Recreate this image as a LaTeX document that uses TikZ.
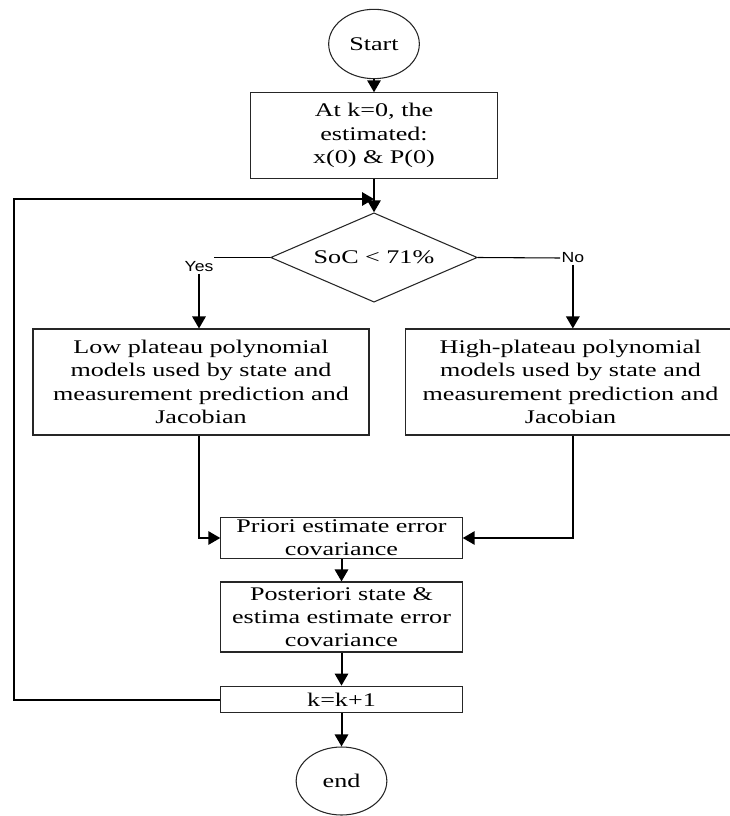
\documentclass[tikz,border=0pt]{standalone}
\usepackage{fontspec}
\setmainfont{Liberation Serif}[FakeStretch=1.35]
\newfontfamily\yesnofont{Liberation Sans}[FakeStretch=1.2]
\usetikzlibrary{shapes.geometric,arrows.meta}
\begin{document}
\begin{tikzpicture}[x=0.75pt,y=-0.75pt,
  font=\fontsize{14.5}{17.5}\selectfont,
  box/.style={draw=black!85, line width=0.8pt, align=center, inner sep=2pt},
  term/.style={draw=black!85, line width=0.8pt, ellipse, inner sep=0pt, minimum width=68pt, minimum height=52pt},
  decide/.style={draw=black!85, line width=0.8pt, diamond, aspect=2.33, inner sep=0pt, minimum width=155pt, minimum height=67pt},
  lbl/.style={font=\yesnofont\fontsize{11}{13}\selectfont, inner sep=1pt},
  flow/.style={line width=1.5pt, -{Triangle[length=9pt,width=10pt]}},
  plain/.style={line width=0.8pt}]
\useasboundingbox (0,0) rectangle (729,816);
\node[term] (start) at (374,44) {Start};
\node[box, minimum width=185pt, minimum height=64pt] (init) at (374,135.5) {At k=0, the\\estimated:\\x(0) \& P(0)};
\node[decide] (soc) at (374,257.5) {SoC < 71\%};
\node[box, minimum width=252pt, minimum height=79.5pt] (low) at (201,382) {Low plateau polynomial\\models used by state and\\measurement prediction and\\Jacobian};
\node[box, minimum width=247pt, minimum height=79.5pt] (high) at (570.5,382) {High-plateau polynomial\\models used by state and\\measurement prediction and\\Jacobian};
\node[box, minimum width=181pt, minimum height=30pt] (priori) at (341.5,538) {Priori estimate error\\covariance};
\node[box, minimum width=181pt, minimum height=52.5pt] (post) at (341.5,617) {Posteriori state \&\\estima estimate error\\covariance};
\node[box, minimum width=181pt, minimum height=20pt] (kstep) at (341.5,699.5) {k=k+1};
\node[term, minimum height=51pt] (stop) at (341.5,781) {end};
% decision labels
\node[lbl] (yes) at (199,267) {Yes};
\node[lbl, anchor=west] (no) at (560,258) {No};
\coordinate (yesend) at (214,257.5);
\coordinate (back) at (14,699.5);
\coordinate (merge) at (374,199);
% connectors
\draw[flow] (start) -- (init);
\draw[flow] (init) -- (soc);
\draw[plain] (soc.west) -- (yesend);
\draw[plain] (soc.east) -- (no.west);
\draw[flow] (yes.south) -- (yes.south |- low.north);
\draw[flow] (no.south) -- (no.south |- high.north);
\draw[flow] (low.south -| yes.south) |- (priori.west);
\draw[flow] (high.south -| no.south) |- (priori.east);
\draw[flow] (priori) -- (post);
\draw[flow] (post) -- (kstep);
\draw[flow] (kstep) -- (stop);
\draw[flow] (kstep.west) -- (back) |- (merge);
\end{tikzpicture}
\end{document}
